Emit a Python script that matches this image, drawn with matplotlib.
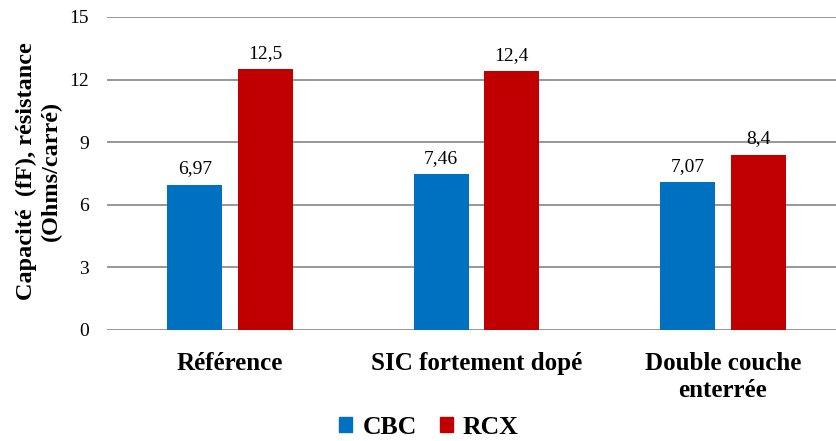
import numpy as np
import matplotlib.pyplot as plt
from matplotlib.patches import Patch

categories = ['Référence', 'SIC fortement dopé', 'Double couche\nenterrée']
cbc = [6.97, 7.46, 7.07]
rcx = [12.5, 12.4, 8.4]
cbc_labels = ['6,97', '7,46', '7,07']
rcx_labels = ['12,5', '12,4', '8,4']
yticks = [0, 3, 6, 9, 12, 15]

plt.rcParams['font.family'] = 'Liberation Serif'
blue = '#0070C0'
red = '#C00000'

fig = plt.figure(figsize=(8.37, 4.41), dpi=100)
ax = fig.add_axes([107 / 837, (441 - 330) / 441, (846 - 107) / 837, (330 - 17) / 441])

x = np.arange(len(categories))
w = 0.223
off = 0.143
b1 = ax.bar(x - off, cbc, w, color=blue, zorder=3)
b2 = ax.bar(x + off, rcx, w, color=red, zorder=3)

for bars, labs in ((b1, cbc_labels), (b2, rcx_labels)):
    for b, lab in zip(bars, labs):
        ax.text(b.get_x() + b.get_width() / 2, b.get_height() + 0.35, lab,
                ha='center', va='bottom', fontsize=14)

ax.set_xlim(-0.5, 2.5)
ax.set_ylim(0, 15)
ax.set_yticks(yticks)
ax.set_yticklabels([str(t) for t in yticks], fontsize=14)
ax.set_xticks(x)
ax.set_xticklabels(categories, fontsize=18, fontweight='bold', linespacing=1.2)
ax.tick_params(axis='y', length=0, pad=13)
ax.tick_params(axis='x', length=0, pad=16)
ax.grid(axis='y', color='#858585', linewidth=1.2, zorder=0)
for s in ax.spines.values():
    s.set_visible(False)

fig.text(39 / 837, 1 - 171 / 441, 'Capacité  (fF), résistance\n(Ohms/carré)',
         rotation=90, ha='center', va='center', fontsize=17.5,
         fontweight='bold', linespacing=1.25)

handles = [Patch(color=blue, label='CBC'), Patch(color=red, label='RCX')]
fig.legend(handles=handles, loc='center', bbox_to_anchor=(429 / 837, 1 - 427 / 441),
           ncol=2, frameon=False, prop={'size': 18.5, 'weight': 'bold'},
           handlelength=0.5, handleheight=0.5, handletextpad=0.4, columnspacing=0.9)

fig.savefig('out.png', dpi=100)
